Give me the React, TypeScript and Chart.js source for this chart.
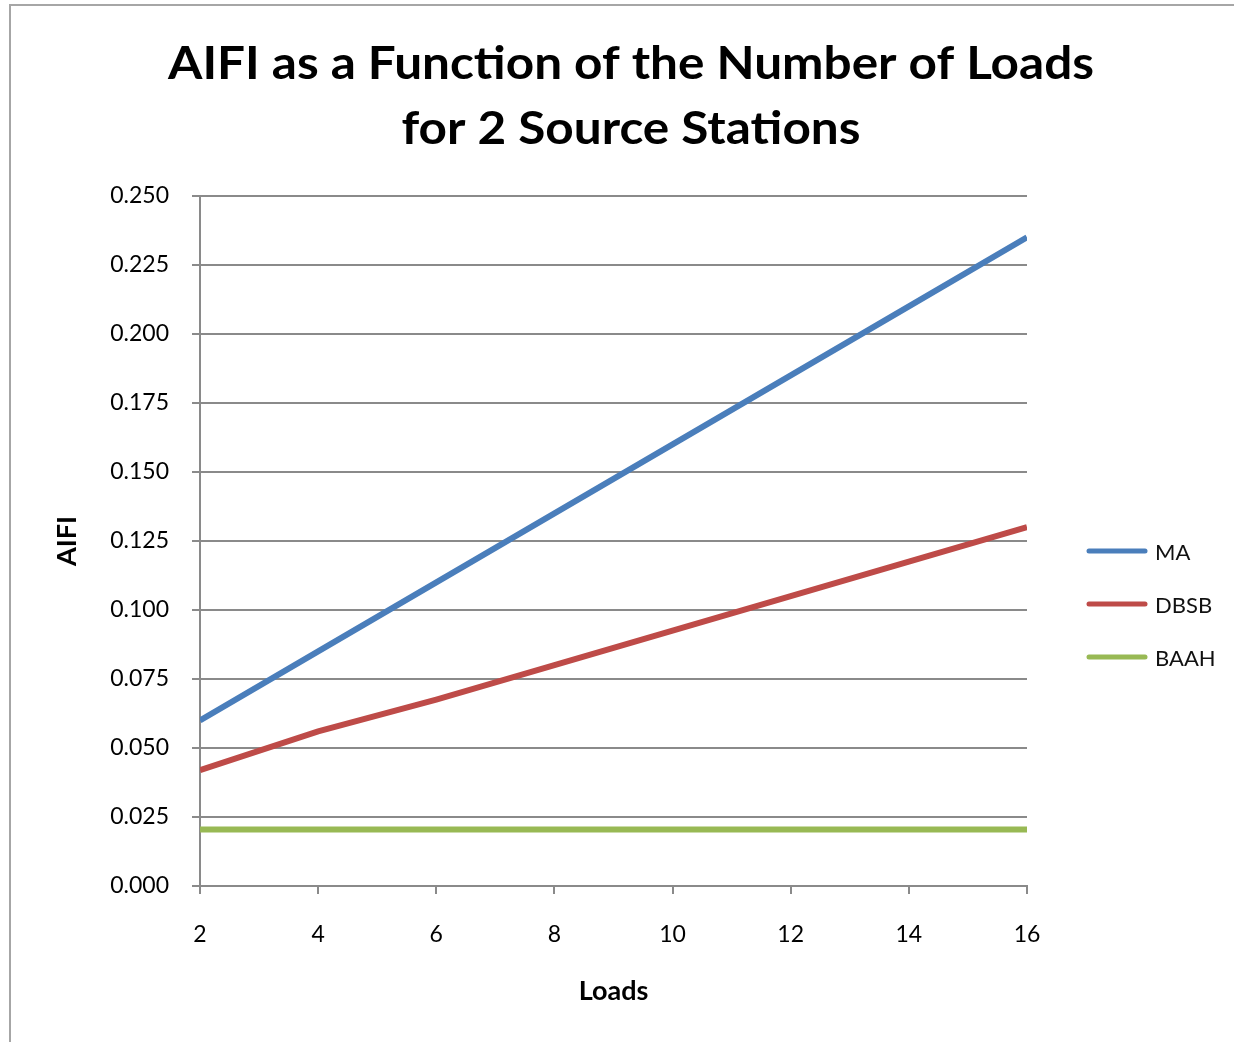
import React, { useEffect, useRef } from "react";
import { Chart, registerables } from "chart.js";

Chart.register(...registerables);

const loads = [2, 4, 6, 8, 10, 12, 14, 16];
const maValues = [0.06, 0.085, 0.11, 0.135, 0.16, 0.185, 0.21, 0.235];
const dbsbValues = [0.042, 0.056, 0.0675, 0.08, 0.0925, 0.105, 0.1175, 0.13];
const baahValues = [0.0205, 0.0205, 0.0205, 0.0205, 0.0205, 0.0205, 0.0205, 0.0205];
const seriesNames = ["MA", "DBSB", "BAAH"];
const seriesColors = ["#4A7EBB", "#BE4B48", "#98B954"];
const titleLines = ["AIFI as a Function of the Number of Loads", "for 2 Source Stations"];
const xAxisTitle = "Loads";
const yAxisTitle = "AIFI";

const FONT = "Lato, 'Open Sans', sans-serif";

const overlayPlugin = {
  id: "overlay",
  afterDraw(chart: any) {
    const ctx = chart.ctx;
    ctx.save();
    // title (stretched horizontally to match the reference width)
    ctx.fillStyle = "#000";
    ctx.font = `bold 46px ${FONT}`;
    ctx.textAlign = "center";
    ctx.textBaseline = "alphabetic";
    const w = ctx.measureText(titleLines[0]).width;
    const sx = 926 / w;
    ctx.save();
    ctx.translate(631, 0);
    ctx.scale(sx, 1);
    ctx.fillText(titleLines[0], 0, 79);
    ctx.fillText(titleLines[1], 0, 144);
    ctx.restore();
    // legend
    const legendY = [552, 605, 658];
    chart.data.datasets.forEach((ds: any, i: number) => {
      ctx.strokeStyle = ds.borderColor;
      ctx.lineWidth = 5;
      ctx.lineCap = "round";
      ctx.beginPath();
      ctx.moveTo(1089, legendY[i] - 1);
      ctx.lineTo(1145, legendY[i] - 1);
      ctx.stroke();
      ctx.fillStyle = "#111";
      ctx.font = `22px ${FONT}`;
      ctx.textAlign = "left";
      ctx.textBaseline = "middle";
      ctx.fillText(ds.label, 1155, legendY[i] + 1);
    });
    ctx.restore();
  },
};

export default function App() {
  const ref = useRef<HTMLCanvasElement>(null);
  useEffect(() => {
    document.body.style.margin = "0";
    document.body.style.overflow = "hidden";
    const allValues = [maValues, dbsbValues, baahValues];
    const chart = new Chart(ref.current as HTMLCanvasElement, {
      type: "line",
      data: {
        datasets: allValues.map((vals, i) => ({
          label: seriesNames[i],
          data: loads.map((x, j) => ({ x, y: vals[j] })),
          borderColor: seriesColors[i],
          backgroundColor: seriesColors[i],
          borderWidth: 6,
          pointRadius: 0,
          tension: 0,
          fill: false,
        })),
      },
      options: {
        responsive: false,
        animation: false,
        layout: { padding: { left: 0, right: 207, top: 196, bottom: 0 } },
        plugins: {
          legend: { display: false },
          title: { display: false },
          tooltip: { enabled: false },
        },
        scales: {
          x: {
            type: "linear",
            min: 2,
            max: 16,
            afterFit: (s: any) => {
              s.height = 156;
            },
            ticks: {
              stepSize: 2,
              padding: 27,
              color: "#000",
              font: { family: FONT, size: 23 },
            },
            grid: {
              drawOnChartArea: false,
              drawTicks: true,
              tickLength: 8,
              color: "#8a8a8a",
              lineWidth: 2,
            },
            border: { color: "#8a8a8a", width: 2 },
            title: {
              display: true,
              text: xAxisTitle,
              color: "#000",
              font: { family: FONT, size: 27, weight: "bold" },
              padding: { top: 0, bottom: 35 },
            },
          },
          y: {
            min: 0,
            max: 0.25,
            afterFit: (s: any) => {
              s.width = 200;
            },
            ticks: {
              stepSize: 0.025,
              padding: 23,
              color: "#000",
              font: { family: FONT, size: 23 },
              callback: (v: any) => Number(v).toFixed(3),
            },
            grid: {
              drawTicks: true,
              tickLength: 8,
              color: "#8a8a8a",
              lineWidth: 2,
            },
            border: { color: "#8a8a8a", width: 2 },
            title: {
              display: true,
              text: yAxisTitle,
              color: "#000",
              font: { family: FONT, size: 27, weight: "bold" },
              padding: { top: 51, bottom: 0 },
            },
          },
        },
      },
      plugins: [overlayPlugin],
    });
    return () => chart.destroy();
  }, []);
  return (
    <div style={{ position: "relative", width: 1234, height: 1042, overflow: "hidden", background: "#fff" }}>
      <div
        style={{
          position: "absolute",
          left: 9,
          top: 4,
          width: 1260,
          height: 1080,
          border: "2px solid #a6a6a6",
          boxSizing: "border-box",
        }}
      />
      <canvas ref={ref} width={1234} height={1042} style={{ position: "absolute", left: 0, top: 0 }} />
    </div>
  );
}
